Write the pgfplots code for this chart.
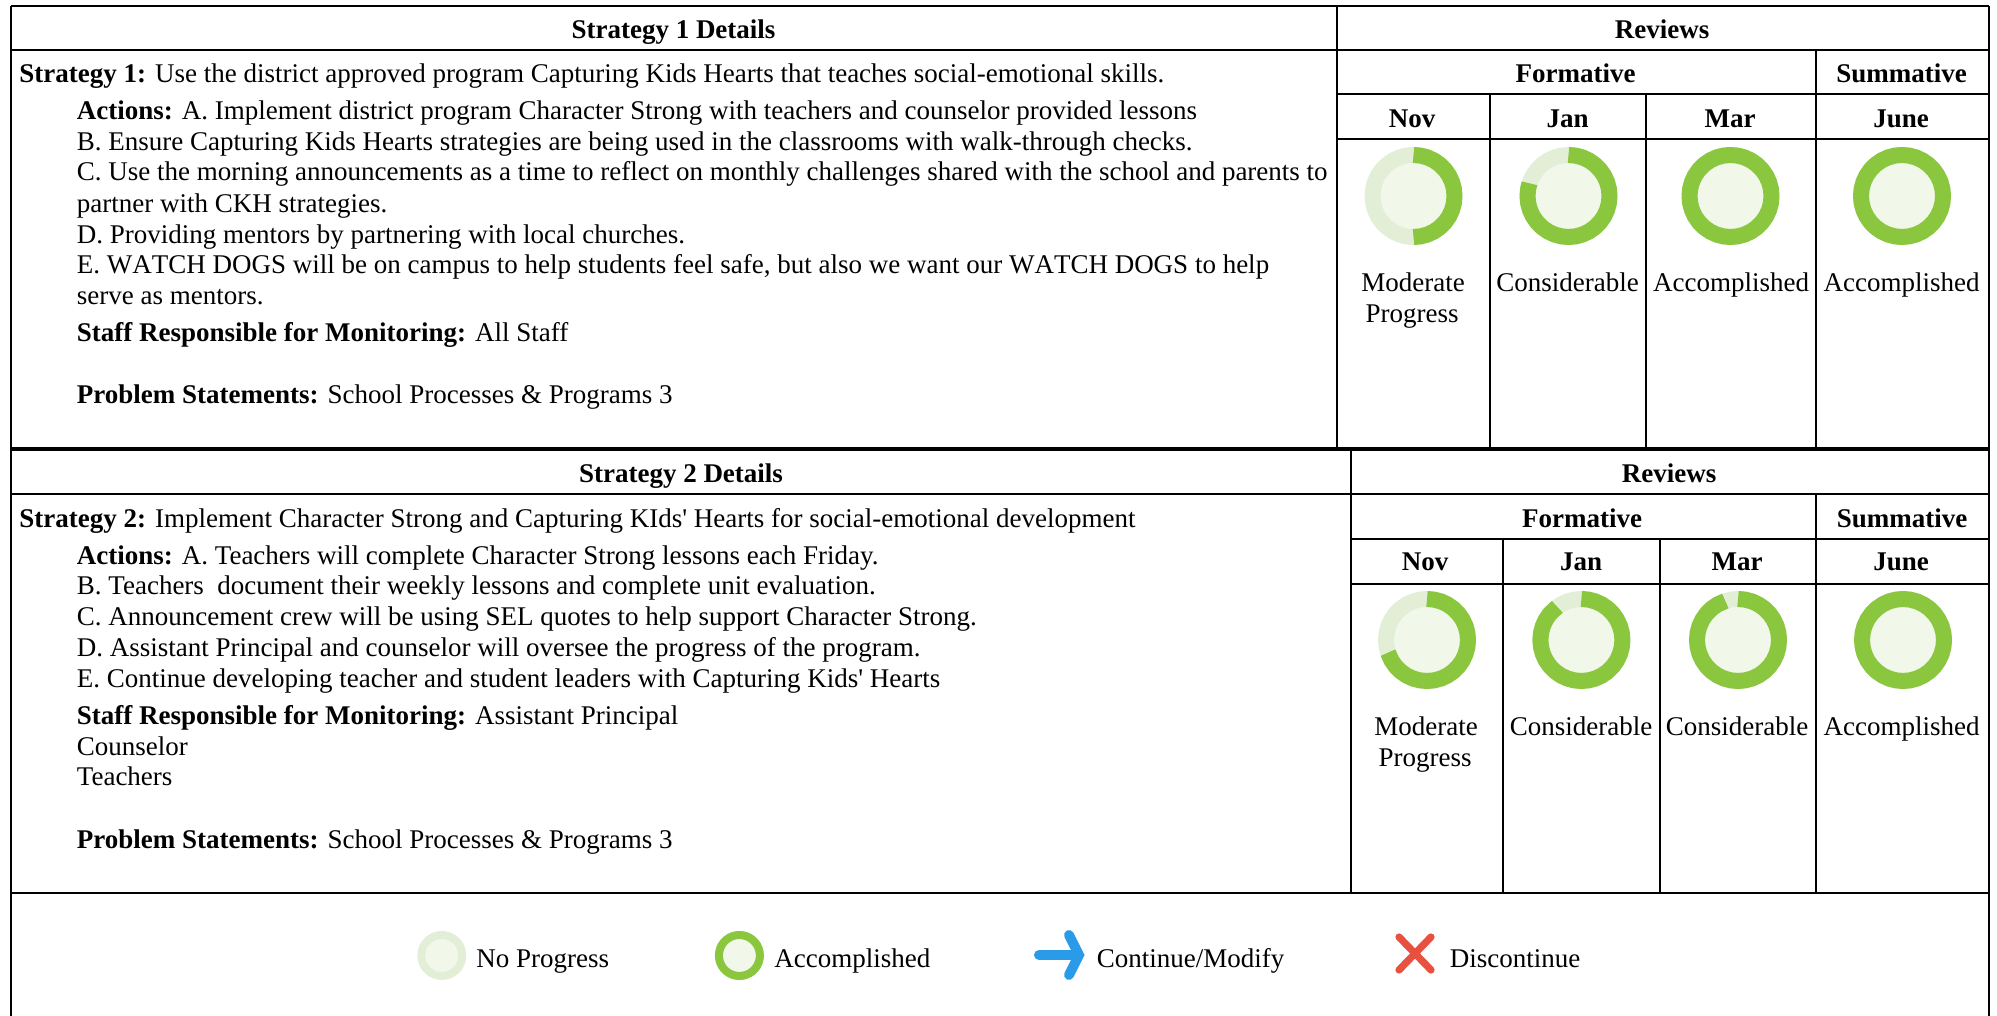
\documentclass[border=0pt]{standalone}
\usepackage{fontspec}
\setmainfont{Liberation Serif}
\usepackage{pgfplots}
\pgfplotsset{compat=1.18}
\usepgfplotslibrary{polar}
\definecolor{grn}{RGB}{139,198,63}
\definecolor{lring}{RGB}{226,239,214}
\definecolor{ldisc}{RGB}{241,247,233}
\definecolor{arrowblue}{RGB}{42,155,232}
\definecolor{xred}{RGB}{232,80,63}
\newcommand{\wdogs}{{\addfontfeatures{Kerning=Off}WATCH DOGS}}
% #1 x px, #2 y px, #3 axis width pt, #4 line width pt, #5 progress arc
\newcommand{\donut}[5]{%
\begin{polaraxis}[at={(#1*0.5pt,{(1016-#2)*0.5pt})},anchor=center,scale only axis,width=#3,height=#3,
  hide axis,clip=false,xmin=0,xmax=360,ymin=0,ymax=49]
\addplot[no marks,draw=none,fill=ldisc] coordinates {(0,33)(10,33)(20,33)(30,33)(40,33)(50,33)(60,33)(70,33)(80,33)(90,33)(100,33)(110,33)(120,33)(130,33)(140,33)(150,33)(160,33)(170,33)(180,33)(190,33)(200,33)(210,33)(220,33)(230,33)(240,33)(250,33)(260,33)(270,33)(280,33)(290,33)(300,33)(310,33)(320,33)(330,33)(340,33)(350,33)(360,33)};
\addplot[no marks,draw=lring,line width=#4,line join=round] coordinates {(0,41)(10,41)(20,41)(30,41)(40,41)(50,41)(60,41)(70,41)(80,41)(90,41)(100,41)(110,41)(120,41)(130,41)(140,41)(150,41)(160,41)(170,41)(180,41)(190,41)(200,41)(210,41)(220,41)(230,41)(240,41)(250,41)(260,41)(270,41)(280,41)(290,41)(300,41)(310,41)(320,41)(330,41)(340,41)(350,41)(360,41)(370,41)};
#5
\end{polaraxis}}
\newcommand{\arcplot}[2]{\addplot[no marks,draw=grn,line width=#1,line join=round] coordinates {#2};}
\newcommand{\arcfull}[1]{\arcplot{#1}{(90,41)(80,41)(70,41)(60,41)(50,41)(40,41)(30,41)(20,41)(10,41)(0,41)(-10,41)(-20,41)(-30,41)(-40,41)(-50,41)(-60,41)(-70,41)(-80,41)(-90,41)(-100,41)(-110,41)(-120,41)(-130,41)(-140,41)(-150,41)(-160,41)(-170,41)(-180,41)(-190,41)(-200,41)(-210,41)(-220,41)(-230,41)(-240,41)(-250,41)(-260,41)(-270,41)(-280,41)}}
\newcommand{\rl}[4]{\draw[black,line width=#1] (axis cs:#2,{1016-#3}) -- (axis cs:#4,{1016-#3});}
\newcommand{\vl}[4]{\draw[black,line width=#1] (axis cs:#2,{1016-#3}) -- (axis cs:#2,{1016-#4});}
\newcommand{\tl}[3]{\node[anchor=base west,inner sep=0pt] at (axis cs:#1,{1016-#2}) {#3};}
\newcommand{\tc}[3]{\node[anchor=base,inner sep=0pt] at (axis cs:#1,{1016-#2}) {#3};}
\begin{document}
\begin{tikzpicture}
\useasboundingbox (0,0) rectangle (998.5pt,508pt);
\begin{axis}[at={(0,0)},anchor=south west,scale only axis,width=998.5pt,height=508pt,hide axis,clip=false,
  xmin=0,xmax=1997,ymin=0,ymax=1016,
  nodes={font=\fontsize{13.5}{16}\selectfont}]
\rl{1pt}{11}{6}{1988.5}
\rl{1.2pt}{11}{50}{1988.5}
\rl{1pt}{1337}{94}{1988.5}
\rl{1.2pt}{1337}{139}{1988.5}
\rl{1.8pt}{11}{449}{1988.5}
\rl{1pt}{11}{494}{1988.5}
\rl{1pt}{1350.5}{539}{1988.5}
\rl{1.2pt}{1350.5}{584}{1988.5}
\rl{1pt}{11}{893}{1988.5}
\vl{1pt}{11}{6}{1016}
\vl{1pt}{1988.5}{6}{1016}
\vl{1pt}{1337}{6}{449}
\vl{1pt}{1489.5}{94}{449}
\vl{1pt}{1646}{94}{449}
\vl{1pt}{1816}{50}{449}
\vl{1pt}{1350.5}{449}{893}
\vl{1pt}{1503}{539}{893}
\vl{1pt}{1659.5}{539}{893}
\vl{1pt}{1816}{494}{893}
% left text, strategy 1
\tc{673.5}{39}{\textbf{Strategy 1 Details}}
\tl{19}{83}{\textbf{Strategy 1:} Use the district approved program Capturing Kids Hearts that teaches social-emotional skills.}
\tl{76.5}{120}{\textbf{Actions:} A. Implement district program Character Strong with teachers and counselor provided lessons}
\tl{76.5}{151}{B. Ensure Capturing Kids Hearts strategies are being used in the classrooms with walk-through checks.}
\tl{76.5}{181}{C. Use the morning announcements as a time to reflect on monthly challenges shared with the school and parents to}
\tl{76.5}{213}{partner with CKH strategies.}
\tl{76.5}{244}{D. Providing mentors by partnering with local churches.}
\tl{76.5}{274}{E. \wdogs{} will be on campus to help students feel safe, but also we want our \wdogs{} to help}
\tl{76.5}{305}{serve as mentors.}
\tl{76.5}{342}{\textbf{Staff Responsible for Monitoring:} All Staff}
\tl{76.5}{404}{\textbf{Problem Statements:} School Processes \& Programs 3}
% left text, strategy 2
\tc{681}{483}{\textbf{Strategy 2 Details}}
\tl{19}{528}{\textbf{Strategy 2:} Implement Character Strong and Capturing KIds\textquotesingle{} Hearts for social-emotional development}
\tl{76.5}{565}{\textbf{Actions:} A. Teachers will complete Character Strong lessons each Friday.}
\tl{76.5}{595}{B. Teachers\ \ document their weekly lessons and complete unit evaluation.}
\tl{76.5}{626}{C. Announcement crew will be using SEL quotes to help support Character Strong.}
\tl{76.5}{657}{D. Assistant Principal and counselor will oversee the progress of the program.}
\tl{76.5}{688}{E. Continue developing teacher and student leaders with Capturing Kids\textquotesingle{} Hearts}
\tl{76.5}{725}{\textbf{Staff Responsible for Monitoring:} Assistant Principal}
\tl{76.5}{756}{Counselor}
\tl{76.5}{786}{Teachers}
\tl{76.5}{849}{\textbf{Problem Statements:} School Processes \& Programs 3}
% reviews 1
\tc{1662}{39}{\textbf{Reviews}}
\tc{1575.5}{83}{\textbf{Formative}}
\tc{1901.5}{83}{\textbf{Summative}}
\tc{1412}{128}{\textbf{Nov}}
\tc{1567.5}{128}{\textbf{Jan}}
\tc{1730}{128}{\textbf{Mar}}
\tc{1901}{128}{\textbf{June}}
\tc{1413}{292}{Moderate}
\tc{1412}{323}{Progress}
\tc{1567.5}{292}{Considerable}
\tc{1731}{292}{Accomplished}
\tc{1901.5}{292}{Accomplished}
% reviews 2
\tc{1669}{483}{\textbf{Reviews}}
\tc{1582}{528}{\textbf{Formative}}
\tc{1902}{528}{\textbf{Summative}}
\tc{1425}{571}{\textbf{Nov}}
\tc{1581}{571}{\textbf{Jan}}
\tc{1737}{571}{\textbf{Mar}}
\tc{1901}{571}{\textbf{June}}
\tc{1426}{736}{Moderate}
\tc{1425}{767}{Progress}
\tc{1581}{736}{Considerable}
\tc{1737}{736}{Considerable}
\tc{1901.5}{736}{Accomplished}
% legend text
\tl{476}{967.5}{No Progress}
\tl{774}{967.5}{Accomplished}
\tl{1096.5}{967.5}{Continue/Modify}
\tl{1449.5}{967.5}{Discontinue}
% legend icons
\addplot[no marks,draw=arrowblue,line width=5pt,line cap=round] coordinates {(1039,61)(1078,61)};
\addplot[no marks,draw=arrowblue,line width=5pt,line cap=round,line join=miter] coordinates {(1069,81)(1079,61)(1069,41)};
\addplot[no marks,draw=xred,line width=3.6pt,line cap=round] coordinates {(1399,79)(1431,46)};
\addplot[no marks,draw=xred,line width=3.6pt,line cap=round] coordinates {(1399,46)(1431,79)};
\end{axis}
\donut{1413.5}{196}{49pt}{8pt}{\arcplot{8pt}{(90,41)(80,41)(70,41)(60,41)(50,41)(40,41)(30,41)(20,41)(10,41)(0,41)(-10,41)(-20,41)(-30,41)(-40,41)(-50,41)(-60,41)(-70,41)(-80,41)(-90,41)}}
\donut{1568.5}{196}{49pt}{8pt}{\arcplot{8pt}{(90,41)(80,41)(70,41)(60,41)(50,41)(40,41)(30,41)(20,41)(10,41)(0,41)(-10,41)(-20,41)(-30,41)(-40,41)(-50,41)(-60,41)(-70,41)(-80,41)(-90,41)(-100,41)(-110,41)(-120,41)(-130,41)(-140,41)(-150,41)(-160,41)(-170,41)(-180,41)(-190,41)(-198,41)}}
\donut{1730.5}{196}{49pt}{8pt}{\arcfull{8pt}}
\donut{1902}{196}{49pt}{8pt}{\arcfull{8pt}}
\donut{1427}{640}{49pt}{8pt}{\arcplot{8pt}{(90,41)(80,41)(70,41)(60,41)(50,41)(40,41)(30,41)(20,41)(10,41)(0,41)(-10,41)(-20,41)(-30,41)(-40,41)(-50,41)(-60,41)(-70,41)(-80,41)(-90,41)(-100,41)(-110,41)(-120,41)(-130,41)(-140,41)(-150,41)(-162,41)}}
\donut{1581.4}{640}{49pt}{8pt}{\arcplot{8pt}{(90,41)(80,41)(70,41)(60,41)(50,41)(40,41)(30,41)(20,41)(10,41)(0,41)(-10,41)(-20,41)(-30,41)(-40,41)(-50,41)(-60,41)(-70,41)(-80,41)(-90,41)(-100,41)(-110,41)(-120,41)(-130,41)(-140,41)(-150,41)(-160,41)(-170,41)(-180,41)(-190,41)(-200,41)(-210,41)(-220,41)(-234,41)}}
\donut{1738}{640}{49pt}{8pt}{\arcplot{8pt}{(90,41)(80,41)(70,41)(60,41)(50,41)(40,41)(30,41)(20,41)(10,41)(0,41)(-10,41)(-20,41)(-30,41)(-40,41)(-50,41)(-60,41)(-70,41)(-80,41)(-90,41)(-100,41)(-110,41)(-120,41)(-130,41)(-140,41)(-150,41)(-160,41)(-170,41)(-180,41)(-190,41)(-200,41)(-210,41)(-220,41)(-230,41)(-240,41)(-252,41)}}
\donut{1903}{640}{49pt}{8pt}{\arcfull{8pt}}
\donut{441.8}{955.5}{24.5pt}{4pt}{}
\donut{739.4}{955.5}{24.5pt}{4pt}{\arcfull{4pt}}
\end{tikzpicture}
\end{document}
